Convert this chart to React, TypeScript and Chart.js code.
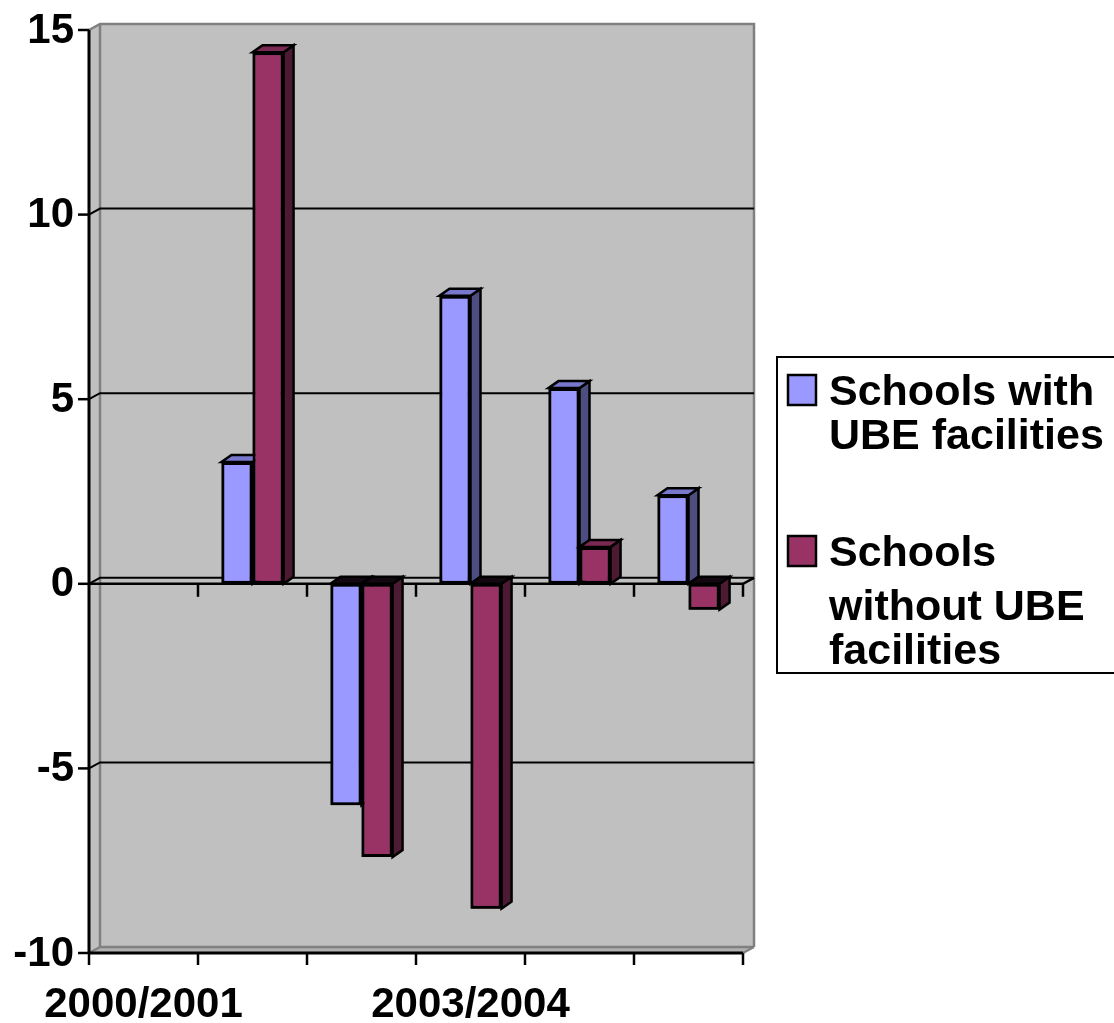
import { useEffect, useRef } from 'react';
import { Chart, registerables } from 'chart.js';

Chart.register(...registerables);

// School years on the category axis; only some of them get a printed label
const categories = ['2000/2001', '2001/2002', '2002/2003', '2003/2004', '2004/2005', '2005/2006'];
const shownCategoryLabels = [0, 3];

// Percentage change per school year
const withFacilities = [null, 3.3, -6.0, 7.8, 5.3, 2.4];
const withoutFacilities = [null, 14.4, -7.4, -8.8, 1.0, -0.7];

const seriesNames = ['Schools with UBE facilities', 'Schools without UBE facilities'];
const legendLines = [
  ['Schools with', 'UBE facilities'],
  ['Schools', 'without UBE', 'facilities'],
];

const yMin = -10;
const yMax = 15;
const yStep = 5;

const FRONT = ['#9999FF', '#993366'];
const TOP = ['#7777CC', '#7A2952'];
const SIDE = ['#4D4D80', '#4D1A33'];
const FONT = 'bold 42px "Liberation Sans", Arial, Helvetica, sans-serif';
const LEGEND_FONT = 'bold 43px "Liberation Sans", Arial, Helvetica, sans-serif';

// depth of the walls and of the columns (drawn up and to the right)
const WX = 11;
const WY = -6;
const BX = 10;
const BY = -7;

type Pt = [number, number];

function poly(ctx: CanvasRenderingContext2D, pts: Pt[], fill?: string, stroke?: string, lw = 2) {
  ctx.beginPath();
  ctx.moveTo(pts[0][0], pts[0][1]);
  for (let i = 1; i < pts.length; i++) ctx.lineTo(pts[i][0], pts[i][1]);
  ctx.closePath();
  if (fill) {
    ctx.fillStyle = fill;
    ctx.fill();
  }
  if (stroke) {
    ctx.strokeStyle = stroke;
    ctx.lineWidth = lw;
    ctx.stroke();
  }
}

function line(ctx: CanvasRenderingContext2D, pts: Pt[], color: string, lw = 2) {
  ctx.beginPath();
  ctx.moveTo(pts[0][0], pts[0][1]);
  for (let i = 1; i < pts.length; i++) ctx.lineTo(pts[i][0], pts[i][1]);
  ctx.strokeStyle = color;
  ctx.lineWidth = lw;
  ctx.stroke();
}

const frame3d = {
  id: 'frame3d',
  beforeDatasetsDraw(chart: any) {
    const { ctx, chartArea } = chart;
    const { left, right, top, bottom } = chartArea;
    const x = chart.scales.x;
    const y = chart.scales.y;
    ctx.save();
    ctx.lineJoin = 'miter';

    // back wall, side wall, floor
    ctx.fillStyle = '#C0C0C0';
    ctx.fillRect(left + WX, top + WY, right - left, bottom - top);
    poly(ctx, [[left, top], [left + WX, top + WY], [left + WX, bottom + WY], [left, bottom]], '#C0C0C0');
    poly(ctx, [[left, bottom], [left + WX, bottom + WY], [right + WX, bottom + WY], [right, bottom]], '#B0B0B0');

    // wall edges
    line(ctx, [[left, top], [left + WX, top + WY], [right + WX, top + WY], [right + WX, bottom + WY]], '#808080', 2.5);
    line(ctx, [[left + WX, top + WY], [left + WX, bottom + WY], [right + WX, bottom + WY]], '#808080', 2.5);
    line(ctx, [[left, bottom], [left + WX, bottom + WY]], '#808080', 2);
    line(ctx, [[right, bottom], [right + WX, bottom + WY]], '#808080', 2);

    // gridlines on the back wall, continued across the side wall
    for (let v = yMin + yStep; v < yMax; v += yStep) {
      const py = y.getPixelForValue(v);
      line(ctx, [[left, py], [left + WX, py + WY], [right + WX, py + WY]], '#000', 2);
    }

    // zero plane: front edge and ticks between the categories
    const y0 = y.getPixelForValue(0);
    line(ctx, [[left, y0], [right, y0], [right + WX, y0 + WY]], '#000', 2.5);
    for (let k = 1; k <= categories.length; k++) {
      const bx = Math.round(x.getPixelForValue(k - 0.5));
      line(ctx, [[bx, y0], [bx, y0 + 13]], '#000', 2.5);
    }
    ctx.restore();
  },
  afterDatasetsDraw(chart: any) {
    const { ctx } = chart;
    ctx.save();
    ctx.lineJoin = 'miter';
    // painter's order: left to right, each column's depth faces then its front face
    for (let i = 0; i < categories.length; i++) {
      for (let d = 0; d < chart.data.datasets.length; d++) {
        const val = chart.data.datasets[d].data[i];
        if (val === null || val === undefined) continue;
        const el = chart.getDatasetMeta(d).data[i];
        const p = el.getProps(['x', 'y', 'base', 'width'], true);
        const l = p.x - p.width / 2;
        const r = p.x + p.width / 2;
        const t = Math.min(p.y, p.base);
        const b = Math.max(p.y, p.base);
        poly(ctx, [[r, t], [r + BX, t + BY], [r + BX, b + BY], [r, b]], SIDE[d], '#000', 2.5);
        poly(ctx, [[l, t], [l + BX, t + BY], [r + BX, t + BY], [r, t]], val < 0 ? '#140810' : TOP[d], '#000', 2.5);
        el.draw(ctx);
      }
    }
    ctx.restore();
  },
  afterDraw(chart: any) {
    const { ctx, chartArea } = chart;
    const { left, right, top, bottom } = chartArea;
    const x = chart.scales.x;
    const y = chart.scales.y;
    ctx.save();

    // value axis with ticks and labels
    line(ctx, [[left, top], [left, bottom]], '#000', 3);
    ctx.font = FONT;
    ctx.fillStyle = '#000';
    ctx.textAlign = 'right';
    ctx.textBaseline = 'middle';
    for (let v = yMin; v <= yMax; v += yStep) {
      const py = y.getPixelForValue(v);
      line(ctx, [[left - 11, py], [left, py]], '#000', 2.5);
      ctx.fillText(String(v), left - 15, py + 1);
    }

    // category axis along the front of the floor
    line(ctx, [[left, bottom], [right, bottom]], '#000', 3);
    for (let k = 0; k <= categories.length; k++) {
      const bx = Math.round(x.getPixelForValue(k - 0.5));
      line(ctx, [[bx, bottom], [bx, bottom + 12]], '#000', 2.5);
    }
    ctx.textAlign = 'center';
    ctx.textBaseline = 'alphabetic';
    for (const i of shownCategoryLabels) {
      ctx.fillText(categories[i], x.getPixelForValue(i), 1017);
    }

    // legend
    ctx.fillStyle = '#fff';
    ctx.fillRect(777, 357, 340, 316);
    ctx.strokeStyle = '#000';
    ctx.lineWidth = 2;
    ctx.strokeRect(777, 357, 340, 316);
    const swatchTops = [374, 535];
    const baselines = [[405, 449], [566, 620, 664]];
    ctx.font = LEGEND_FONT;
    ctx.textAlign = 'left';
    for (let d = 0; d < legendLines.length; d++) {
      ctx.fillStyle = FRONT[d];
      ctx.fillRect(788, swatchTops[d] + 1, 28, 30);
      ctx.strokeStyle = '#000';
      ctx.lineWidth = 2.5;
      ctx.strokeRect(788, swatchTops[d] + 1, 28, 30);
      ctx.fillStyle = '#000';
      legendLines[d].forEach((txt, j) => ctx.fillText(txt, 829, baselines[d][j]));
    }
    ctx.restore();
  },
};

export default function App() {
  const canvasRef = useRef<HTMLCanvasElement | null>(null);

  useEffect(() => {
    const canvas = canvasRef.current;
    if (!canvas) return;
    const chart = new Chart(canvas, {
      type: 'bar',
      data: {
        labels: categories,
        datasets: [
          {
            label: seriesNames[0],
            data: withFacilities,
            backgroundColor: FRONT[0],
            borderColor: '#000',
            borderWidth: 3,
            borderSkipped: false,
          },
          {
            label: seriesNames[1],
            data: withoutFacilities,
            backgroundColor: FRONT[1],
            borderColor: '#000',
            borderWidth: 3,
            borderSkipped: false,
          },
        ],
      },
      options: {
        responsive: false,
        animation: false,
        devicePixelRatio: 1,
        events: [],
        layout: { padding: { left: 89, top: 30, right: 371, bottom: 70 } },
        datasets: { bar: { barPercentage: 1, categoryPercentage: 0.57 } },
        scales: {
          x: { display: false },
          y: { display: false, min: yMin, max: yMax, ticks: { stepSize: yStep } },
        },
        plugins: { legend: { display: false }, tooltip: { enabled: false } },
      },
      plugins: [frame3d],
    } as any);
    return () => chart.destroy();
  }, []);

  return (
    <div style={{ position: 'absolute', left: 0, top: 0, width: 1114, height: 1023, background: '#fff' }}>
      <canvas ref={canvasRef} width={1114} height={1023} style={{ display: 'block' }} />
    </div>
  );
}
